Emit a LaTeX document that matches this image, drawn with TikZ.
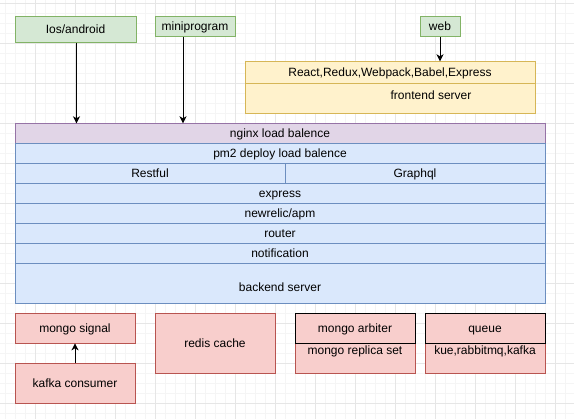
\documentclass[tikz,border=0pt]{standalone}
\usepackage{fontspec}
\setmainfont{Liberation Sans}
\usetikzlibrary{arrows.meta,calc}
\definecolor{gminor}{HTML}{F5F5F5}
\definecolor{gmajor}{HTML}{E6E6E6}
\definecolor{gfill}{HTML}{D5E8D4}\definecolor{gline}{HTML}{82B366}
\definecolor{yfill}{HTML}{FFF2CC}\definecolor{yline}{HTML}{D6B656}
\definecolor{pfill}{HTML}{E1D5E7}\definecolor{pline}{HTML}{9673A6}
\definecolor{bfill}{HTML}{DAE8FC}\definecolor{bline}{HTML}{6C8EBF}
\definecolor{rfill}{HTML}{F8CECC}\definecolor{rline}{HTML}{B85450}
\tikzset{
  cell/.style={draw, line width=1pt, inner sep=0pt, outer sep=0pt, anchor=north west, text height=10pt, text depth=2pt, font=\fontsize{12}{14}\selectfont},
  green/.style={cell, fill=gfill, draw=gline},
  yellow/.style={cell, fill=yfill, draw=yline},
  purple/.style={cell, fill=pfill, draw=pline},
  blue/.style={cell, fill=bfill, draw=bline},
  red/.style={cell, fill=rfill, draw=rline},
  redblack/.style={cell, fill=rfill, draw=black},
  lbl/.style={inner sep=0pt, text height=10pt, text depth=2pt, font=\fontsize{12}{14}\selectfont},
  arr/.style={line width=1pt, -{Stealth[length=7pt,width=7pt,inset=2pt]}}
}
\begin{document}
\begin{tikzpicture}[x=1pt,y=-1pt]
\useasboundingbox (0,0) rectangle (574,419);
\fill[white] (0,0) rectangle (574,419);
% grid
\foreach \x in {5.5,15.5,...,570} \draw[gminor, line width=1pt] (\x,0) -- (\x,419);
\foreach \y in {3.3,13.3,...,419} \draw[gminor, line width=1pt] (0,\y) -- (574,\y);
\foreach \x in {35.5,75.5,...,570} \draw[gmajor, line width=1pt] (\x,0) -- (\x,419);
\foreach \y in {3.3,43.3,...,419} \draw[gmajor, line width=1pt] (0,\y) -- (574,\y);

% top clients
\node[green, minimum width=121pt, minimum height=26pt] (ios) at (15,17) {Ios/android};
\node[green, minimum width=80pt, minimum height=20pt] (mini) at (155,17) {miniprogram};
\node[green, minimum width=40pt, minimum height=20pt] (web) at (420,17) {web};

% frontend
\node[yellow, minimum width=290pt, minimum height=22pt] (fe1) at (245,61.3) {React,Redux,Webpack,Babel,Express};
\node[yellow, minimum width=290pt, minimum height=30pt] (fe2) at (245,83.3) {};
\node[lbl] (fe2t) at (431,96) {frontend server};

% backend stack
\node[purple, minimum width=530pt, minimum height=20pt] (nginx) at (15,123.3) {nginx load balence};
\node[blue, minimum width=530pt, minimum height=20pt] (pm2) at (15,143.3) {pm2 deploy load balence};
\node[blue, minimum width=270pt, minimum height=20pt] (rest) at (15,163.3) {Restful};
\node[blue, minimum width=260pt, minimum height=20pt] (gql) at (285,163.3) {Graphql};
\node[blue, minimum width=530pt, minimum height=20pt] (express) at (15,183.3) {express};
\node[blue, minimum width=530pt, minimum height=20pt] (apm) at (15,203.3) {newrelic/apm};
\node[blue, minimum width=530pt, minimum height=20pt] (router) at (15,223.3) {router};
\node[blue, minimum width=530pt, minimum height=20pt] (notif) at (15,243.3) {notification};
\node[blue, minimum width=530pt, minimum height=40pt] (backend) at (15,263.3) {};
\node[lbl] (backendt) at (280,287.5) {backend server};

% bottom
\node[red, minimum width=120pt, minimum height=30pt] (msig) at (15,313.3) {mongo signal};
\node[red, minimum width=120pt, minimum height=40pt] (kafka) at (15,363.3) {kafka consumer};
\node[red, minimum width=120pt, minimum height=60pt] (redis) at (155,313.3) {redis cache};
\node[red, minimum width=120pt, minimum height=30pt] (repl) at (295,343.3) {};
\node[lbl] (replt) at (355,351) {mongo replica set};
\node[redblack, minimum width=120pt, minimum height=30pt] (arb) at (295,313.3) {mongo arbiter};
\node[red, minimum width=120pt, minimum height=30pt] (qlist) at (425,343.3) {};
\node[lbl] (qlistt) at (485,351) {kue,rabbitmq,kafka};
\node[redblack, minimum width=120pt, minimum height=30pt] (queue) at (425,313.3) {queue};

% connectors
\coordinate (iosx) at ($(ios.south west)+(61.5,0)$);
\draw[arr] (iosx) -- (iosx |- nginx.north);
\coordinate (minix) at ($(mini.south west)+(28,0)$);
\draw[arr] (minix) -- (minix |- nginx.north);
\draw[arr] (web.south) -- (web.south |- fe1.north);
\draw[arr] (kafka.north) -- (msig.south);
\end{tikzpicture}
\end{document}
